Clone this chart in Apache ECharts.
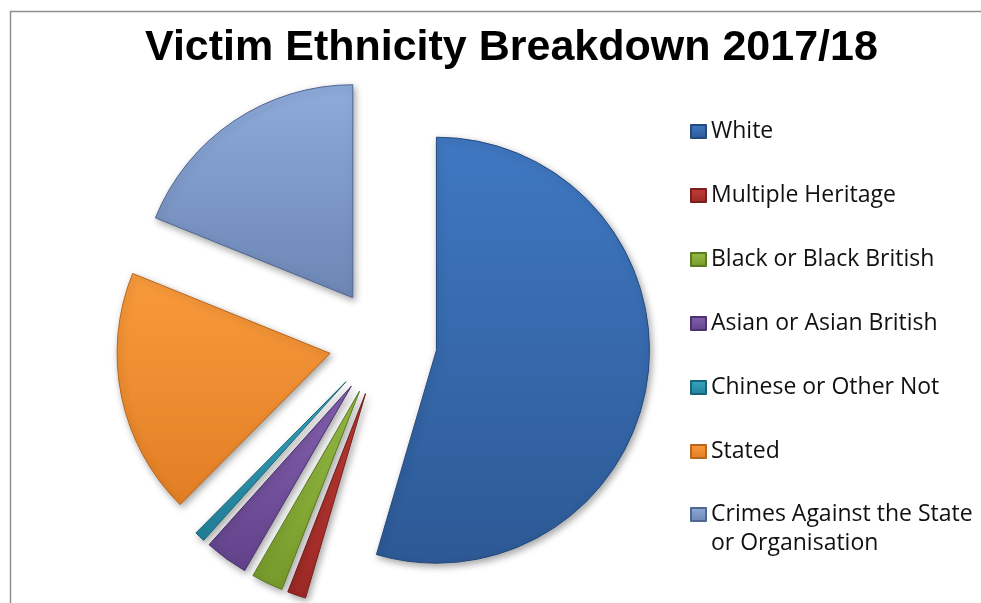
<!DOCTYPE html>
<html>
<head>
<meta charset="utf-8">
<script src="https://cdn.jsdelivr.net/npm/echarts@6/dist/echarts.min.js"></script>
<style>
  html, body { margin: 0; padding: 0; background: #ffffff; }
  #chart { width: 981px; height: 603px; }
</style>
</head>
<body>
<div id="chart"></div>
<script>
// Victim ethnicity shares, 2017/18 (percent of recorded victims)
var categories = [
  'White',
  'Multiple Heritage',
  'Black or Black British',
  'Asian or Asian British',
  'Chinese or Other Not',
  'Stated',
  'Crimes Against the State\nor Organisation'
];
var shares = [54.6, 1.4, 2.4, 3.3, 0.8, 18.7, 18.9];

// Top / bottom tones of each slice's fill, plus an edge colour
var palette = [
  ['#3f78c2', '#2d5995', '#24497c'],
  ['#c53d38', '#9c2926', '#7a1f1d'],
  ['#97bf44', '#76992b', '#5c7a20'],
  ['#8562b1', '#62428a', '#4b3270'],
  ['#38a8c4', '#217f98', '#18657a'],
  ['#f89a3c', '#e27e24', '#b8661a'],
  ['#8eabdb', '#6c86b4', '#4f6690']
];

function fill(i) {
  return {
    type: 'linear', x: 0, y: 0, x2: 0, y2: 1,
    colorStops: [
      { offset: 0, color: palette[i][0] },
      { offset: 1, color: palette[i][1] }
    ]
  };
}

var pieData = categories.map(function (name, i) {
  var style = {
    color: fill(i),
    borderColor: palette[i][2],
    borderWidth: 1,
    shadowBlur: 7,
    shadowOffsetX: 2,
    shadowOffsetY: 3,
    shadowColor: 'rgba(0,0,0,0.35)'
  };
  return {
    name: name,
    value: shares[i],
    selected: true,
    itemStyle: style,
    select: { itemStyle: style }
  };
});

var legendText = {
  fontFamily: '"Open Sans", "Liberation Sans", sans-serif',
  fontSize: 23,
  lineHeight: 27,
  color: '#111111'
};

var chart = echarts.init(document.getElementById('chart'), null, { renderer: 'canvas' });

chart.setOption({
  animation: false,
  backgroundColor: '#ffffff',
  title: {
    text: 'Victim Ethnicity Breakdown 2017/18',
    left: 140,
    top: 22,
    textStyle: {
      fontFamily: '"Liberation Sans", Arial, sans-serif',
      fontWeight: 'bold',
      fontSize: 43,
      lineHeight: 43,
      color: '#000000'
    }
  },
  legend: [
    {
      orient: 'vertical',
      left: 690,
      top: 118,
      padding: 0,
      itemWidth: 15,
      itemHeight: 13,
      itemGap: 37,
      icon: 'rect',
      selectedMode: false,
      data: categories.slice(0, 6),
      textStyle: legendText
    },
    {
      // two-line entry: a leading empty line keeps the marker beside the first line
      orient: 'vertical',
      left: 690,
      top: 471,
      padding: 0,
      itemWidth: 15,
      itemHeight: 13,
      icon: 'rect',
      selectedMode: false,
      data: [categories[6]],
      formatter: function (name) { return '\n' + name; },
      textStyle: Object.assign({}, legendText, { lineHeight: 29 })
    }
  ],
  graphic: [
    {
      type: 'rect',
      silent: true,
      shape: { x: 10.5, y: 11.5, width: 1000, height: 1000 },
      style: { fill: 'none', stroke: '#8f8f8f', lineWidth: 1.5 }
    }
  ],
  series: [
    {
      type: 'pie',
      center: [383, 342.5],
      radius: [0, 213],
      startAngle: 90,
      clockwise: true,
      selectedMode: 'multiple',
      selectedOffset: 54,
      avoidLabelOverlap: false,
      label: { show: false },
      labelLine: { show: false },
      emphasis: { disabled: true, scale: false },
      data: pieData
    }
  ]
});
</script>
</body>
</html>
